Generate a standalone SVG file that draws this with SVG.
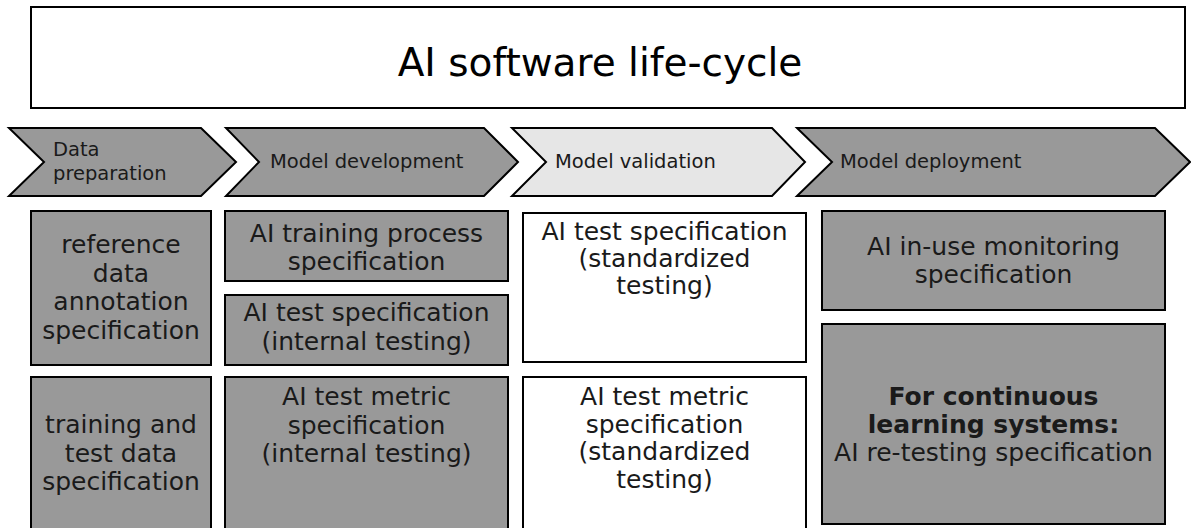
<svg xmlns="http://www.w3.org/2000/svg" width="1191" height="528" viewBox="0 0 1191 528">
<style>
.bx{fill:#999999;stroke:#000;stroke-width:2}
.wb{fill:#ffffff;stroke:#000;stroke-width:2}
.ch{fill:#999999;stroke:#000;stroke-width:2;stroke-linejoin:miter}
.chl{fill:#e6e6e6;stroke:#000;stroke-width:2}
text{font-family:"DejaVu Sans",Verdana,sans-serif;fill:#1a1a1a}
.t{font-size:25px;text-anchor:middle}
.c{font-size:19.5px}
.b{font-weight:bold}
</style>
<rect width="1191" height="528" fill="#ffffff"/>
<g id="title">
<rect x="31" y="7" width="1154" height="101" class="wb"/>
<text x="600" y="76" style="font-size:39px;text-anchor:middle;fill:#000">AI software life-cycle</text>
</g>
<g id="phase-data-preparation">
<polygon class="ch" points="9,128 201,128 236,162 201,196 9,196 44,162"/>
<text class="c" x="53" y="156">Data</text>
<text class="c" x="53" y="180">preparation</text>
</g>
<g id="phase-model-development">
<polygon class="ch" points="226,128 484,128 518,162 484,196 226,196 259,162"/>
<text class="c" x="270" y="168">Model development</text>
</g>
<g id="phase-model-validation">
<polygon class="chl" points="512,128 772,128 805,162 772,196 512,196 546,162"/>
<text class="c" x="555" y="168">Model validation</text>
</g>
<g id="phase-model-deployment">
<polygon class="ch" points="797,128 1155,128 1190,162 1155,196 797,196 832,162"/>
<text class="c" x="840" y="168">Model deployment</text>
</g>
<g id="reference-data-annotation">
<rect class="bx" x="31" y="211" width="180" height="154"/>
<text class="t" x="121" y="253">reference</text>
<text class="t" x="121" y="281.5">data</text>
<text class="t" x="121" y="310">annotation</text>
<text class="t" x="121" y="338.5">specification</text>
</g>
<g id="training-test-data">
<rect class="bx" x="31" y="377" width="180" height="160"/>
<text class="t" x="121" y="433">training and</text>
<text class="t" x="121" y="461.5">test data</text>
<text class="t" x="121" y="490">specification</text>
</g>
<g id="ai-training-process">
<rect class="bx" x="225" y="211" width="283" height="70"/>
<text class="t" x="366.5" y="241.5">AI training process</text>
<text class="t" x="366.5" y="270">specification</text>
</g>
<g id="ai-test-internal">
<rect class="bx" x="225" y="295" width="283" height="70"/>
<text class="t" x="366.5" y="321">AI test specification</text>
<text class="t" x="366.5" y="349.5">(internal testing)</text>
</g>
<g id="ai-test-metric-internal">
<rect class="bx" x="225" y="377" width="283" height="160"/>
<text class="t" x="366.5" y="405">AI test metric</text>
<text class="t" x="366.5" y="433.5">specification</text>
<text class="t" x="366.5" y="462">(internal testing)</text>
</g>
<g id="ai-test-standardized">
<rect class="wb" x="523" y="213" width="283" height="149"/>
<text class="t" x="664.5" y="240">AI test specification</text>
<text class="t" x="664.5" y="267">(standardized</text>
<text class="t" x="664.5" y="294">testing)</text>
</g>
<g id="ai-test-metric-standardized">
<rect class="wb" x="523" y="377" width="283" height="160"/>
<text class="t" x="664.5" y="405">AI test metric</text>
<text class="t" x="664.5" y="432.5">specification</text>
<text class="t" x="664.5" y="460">(standardized</text>
<text class="t" x="664.5" y="487.5">testing)</text>
</g>
<g id="ai-in-use-monitoring">
<rect class="bx" x="822" y="211" width="343" height="99"/>
<text class="t" x="993.5" y="255">AI in-use monitoring</text>
<text class="t" x="993.5" y="283">specification</text>
</g>
<g id="ai-re-testing">
<rect class="bx" x="822" y="324" width="343" height="200"/>
<text class="t b" x="993.5" y="405">For continuous</text>
<text class="t b" x="993.5" y="433">learning systems:</text>
<text class="t" x="993.5" y="461">AI re-testing specification</text>
</g>
<g id="connectors"></g>
</svg>
